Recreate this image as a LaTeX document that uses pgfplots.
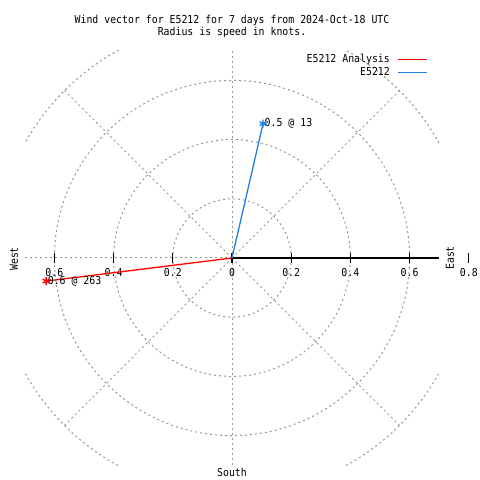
\documentclass[border=0pt]{standalone}
\usepackage{fontspec}
\setmainfont{DejaVu Sans Mono}[FakeStretch=0.9]
\usepackage{pgfplots}
\pgfplotsset{compat=1.18}
\definecolor{vblue}{RGB}{30,128,230}
\definecolor{gridgray}{RGB}{150,150,150}
\begin{document}
\begin{tikzpicture}[x=1bp,y=1bp,font=\fontsize{11}{13}\selectfont]
\begin{axis}[
  scale only axis, width=414.4bp, height=414.4bp,
  at={(24.8bp,14.8bp)}, anchor=south west,
  xmin=-0.7,xmax=0.7,ymin=-0.7,ymax=0.7,
  axis lines=none,
  legend style={at={(axis cs:0.66,0.69)},anchor=north east,draw=none,fill=none,inner sep=0pt,
     nodes={inner sep=0pt,text height=8.5bp,text depth=2bp},row sep=2.5bp,
     font=\fontsize{11}{13}\selectfont},
  legend cell align=right,
  legend plot pos=right,
  legend image code/.code={\path (0bp,0bp); \draw[#1] (7bp,0bp) -- (36bp,0bp);},
]
% polar grid
\pgfplotsinvokeforeach{0.2,0.4,0.6,0.8}{
  \draw[gridgray, line width=1bp, dash pattern=on 2bp off 3bp] (axis cs:0,0) circle [radius=#1];
}
\pgfplotsinvokeforeach{0,45,90,135,180,225,270,315}{
  \draw[gridgray, line width=1bp, dash pattern=on 2bp off 3bp] (axis cs:0,0) -- (axis cs:{0.8*cos(#1)},{0.8*sin(#1)});
}
% x axis (right half) and ticks
\draw[black, line width=1.1bp] (axis cs:0,0) -- (axis cs:0.7,0);
\pgfplotsinvokeforeach{-0.6,-0.4,-0.2,0,0.2,0.4,0.6}{
  \draw[black, line width=1.1bp] (axis cs:#1,0) ++(0bp,-5bp) -- ++(0bp,10bp);
}
\node at ([yshift=-15bp]axis cs:-0.6,0) {0.6};
\node at ([yshift=-15bp]axis cs:-0.4,0) {0.4};
\node at ([yshift=-15bp]axis cs:-0.2,0) {0.2};
\node at ([yshift=-15bp]axis cs:0,0) {0};
\node at ([yshift=-15bp]axis cs:0.2,0) {0.2};
\node at ([yshift=-15bp]axis cs:0.4,0) {0.4};
\node at ([yshift=-15bp]axis cs:0.6,0) {0.6};
% data: wind vectors (speed, compass direction) as cartesian end points
\addplot[red, line width=1.3bp, mark=asterisk, mark indices={2}, mark size=4bp, mark options={solid}]
  coordinates {(0,0) (-0.628,-0.078)}
  node[pos=1, anchor=west, inner sep=0pt, xshift=1bp, text=black] {0.6 @ 263};
\addlegendentry{E5212 Analysis}
\addplot[vblue, line width=1.3bp, mark=asterisk, mark indices={2}, mark size=4bp, mark options={solid}]
  coordinates {(0,0) (0.105,0.454)}
  node[pos=1, anchor=west, inner sep=0pt, xshift=1bp, text=black] {0.5 @ 13};
\addlegendentry{E5212}
\coordinate (E8) at (axis cs:0.8,0);
\end{axis}
\draw[black, line width=1.1bp] ([yshift=-5bp]E8) -- ([yshift=5bp]E8);
\node at ([yshift=-15bp]E8) {0.8};
\node[rotate=90] at (14,221) {West};
\node[rotate=90] at (450,222) {East};
\node at (232,8) {South};
\node[align=center] at (232,453.5) {Wind vector for E5212 for 7 days from 2024-Oct-18 UTC\\Radius is speed in knots.};
\pgfresetboundingbox
\path (0,0) rectangle (480,480);
\end{tikzpicture}
\end{document}
